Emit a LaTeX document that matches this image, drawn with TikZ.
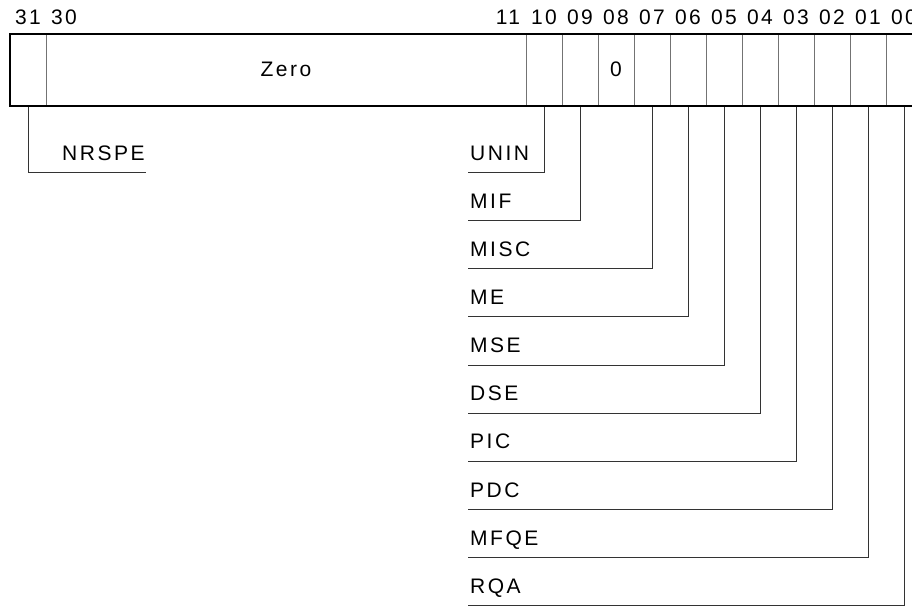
\documentclass[tikz,border=0pt]{standalone}
\usepackage{fontspec}
\setmainfont{Liberation Sans}[LetterSpace=12]
\begin{document}
\begin{tikzpicture}[x=1pt,y=-1pt,
  lbl/.style={font=\fontsize{21}{21}\selectfont, inner sep=0pt},
  outerbox/.style={line width=2pt, draw=black},
  divider/.style={line width=1pt, draw=black!55},
  leader/.style={line width=1pt, draw=black!80}]
\useasboundingbox (0,0) rectangle (912,607);
\clip (0,0) rectangle (912,607);
% register
\draw[outerbox] (10,34) rectangle (922,106);
\foreach \xx in {46,526,562,598,634,670,706,742,778,814,850,886}
  \draw[divider] (\xx,35) -- (\xx,105);
% bit numbers
\node[lbl, anchor=base] (b31) at (28,25) {31};
\node[lbl, anchor=base] (b30) at (64,25) {30};
\foreach \b/\t in {11/11,10/10,9/09,8/08,7/07,6/06,5/05,4/04,3/03,2/02,1/01,0/00}
  \node[lbl, anchor=base] (b\b) at ({904-36*\b},25) {\t};
% field texts
\node[lbl, anchor=base] (zero) at (286,77) {Zero};
\node[lbl, anchor=base] (zerobit) at (616,77) {0};
% cell bottoms
\coordinate (c31) at (28,107);
\foreach \b in {10,9,7,6,5,4,3,2,1,0}
  \coordinate (c\b) at ({904-36*\b},107);
% NRSPE
\coordinate (nrsl) at (146,172.5);
\node[lbl, anchor=base west] (nrspe) at (62,160) {NRSPE};
\draw[leader] (c31) |- (nrsl);
% right labels
\foreach \b/\name [count=\k from 0] in {10/UNIN,9/MIF,7/MISC,6/ME,5/MSE,4/DSE,3/PIC,2/PDC,1/MFQE,0/RQA}{
  \coordinate (s\b) at (468,{172.5+48.15*\k});
  \node[lbl, anchor=base west] (n\b) at (470,{160+48.15*\k}) {\name};
  \draw[leader] (c\b) |- (s\b);
}
\end{tikzpicture}
\end{document}
